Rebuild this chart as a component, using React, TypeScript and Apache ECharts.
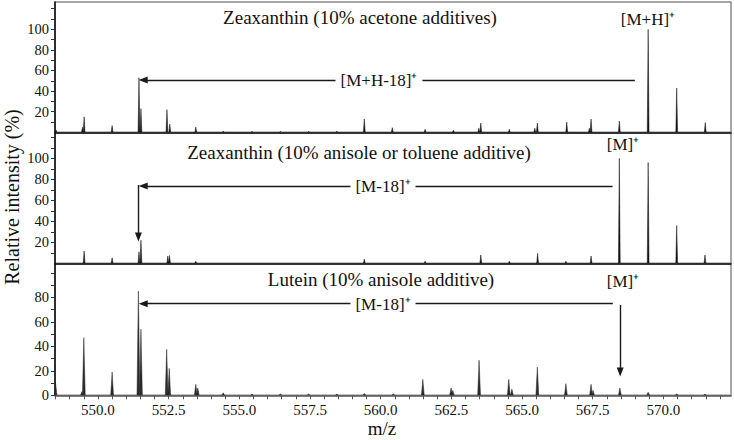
import React, { useEffect, useRef } from "react";
import * as echarts from "echarts";

// ---- data (m/z, relative intensity %) ----
const acetoneMz = [548.52, 549.45, 549.51, 550.5, 551.45, 551.52, 552.44, 552.54, 553.46, 554.43, 555.45, 556.45, 557.45, 558.45, 559.42, 560.41, 561.57, 562.57, 563.47, 563.54, 564.55, 565.45, 565.54, 566.58, 567.38, 567.44, 568.44, 569.46, 570.47, 571.48];
const acetoneInt = [2, 5, 15, 6.5, 53, 23, 22, 8, 5, 1, 0.8, 0.8, 0.8, 1, 13, 4.5, 3, 2, 4, 9, 3, 4, 9, 10, 4, 13, 11, 100, 43, 9.5];

const anisoleMz = [549.51, 550.5, 551.45, 551.52, 552.47, 552.53, 553.46, 559.42, 561.57, 563.54, 564.55, 565.55, 566.55, 567.44, 568.44, 569.46, 570.47, 571.47];
const anisoleInt = [11.7, 5.3, 11, 22, 7, 7.5, 2, 4, 2, 8, 2, 9.5, 2, 7, 100, 96, 36, 8];

const luteinMz = [548.5, 549.43, 549.5, 550.5, 551.43, 551.52, 552.43, 552.52, 553.46, 553.53, 554.43, 555.45, 556.45, 557.45, 558.45, 559.42, 560.45, 561.49, 562.49, 562.55, 563.48, 564.53, 564.64, 565.54, 566.55, 567.44, 567.51, 568.46, 569.46, 570.47, 571.47];
const luteinInt = [10, 3, 47, 19, 85, 54, 37.5, 22, 9, 6, 2, 1, 1, 1, 1, 1.5, 1, 13, 6, 4, 28.7, 13, 5, 23, 9.5, 9, 4, 6, 2.5, 1, 1];

const panelTitles = [
  "Zeaxanthin (10% acetone additives)",
  "Zeaxanthin (10% anisole or toluene additive)",
  "Lutein (10% anisole additive)",
];

// tick labels
const xLabelValues = [550, 552.5, 555, 557.5, 560, 562.5, 565, 567.5, 570];
const xTickValues = Array.from({ length: 48 }, (_, i) => 548.5 + i * 0.5);
const yLabelValuesUpper = [20, 40, 60, 80, 100];
const yTickValuesUpper = [10, 20, 30, 40, 50, 60, 70, 80, 90, 100, 110, 120];
const yLabelValuesLower = [0, 20, 40, 60, 80];
const yTickValuesLower = [0, 10, 20, 30, 40, 50, 60, 70, 80, 90, 100];

// annotation arrows in data units: [x1, y1, x2, y2] (arrow at second point)
const arrowsTop = [[568.99, 50.8, 551.6, 50.8]];
const arrowsMid = [
  [568.2, 73.6, 551.6, 73.6],
  [551.43, 74.6, 551.43, 25],
];
const arrowsBot = [
  [568.21, 74.8, 551.6, 74.8],
  [568.47, 73.7, 568.47, 19],
];

const FONT = '"Liberation Serif", "Times New Roman", serif';
const X_MIN = 548.48;
const X_MAX = 572.39;

function peaksToData(mz: number[], it: number[]) {
  return mz.map((m, i) => [m, it[i]]);
}

function makeRenderItem(color: string, hw: number) {
  return (params: any, api: any) => {
    const m = api.value(0);
    const h = api.value(1);
    const top = api.coord([m, h]);
    const base = api.coord([m, 0]);
    return {
      type: "polygon",
      shape: {
        points: [
          [base[0] - hw, base[1]],
          top,
          [base[0] + hw, base[1]],
        ],
      },
      style: { fill: color, stroke: color, lineWidth: 0.5 },
    };
  };
}

function arrowMarkLine(arrows: number[][]) {
  return {
    silent: true,
    symbol: ["none", "triangle"],
    symbolSize: [7, 9],
    label: { show: false },
    lineStyle: { color: "#1a1a1a", width: 1.4, type: "solid" },
    emphasis: { disabled: true },
    data: arrows.map((a) => [{ coord: [a[0], a[1]] }, { coord: [a[2], a[3]] }]),
  };
}

export default function App() {
  const ref = useRef<HTMLDivElement>(null);
  useEffect(() => {
    if (!ref.current) return;
    const chart = echarts.init(ref.current, undefined, { renderer: "svg" });

    const grids = [
      { left: 55, right: 3, top: 2, height: 130.3 },
      { left: 55, right: 3, top: 133, height: 130.3 },
      { left: 55, right: 3, top: 264, height: 131.3 },
    ].map((g) => ({ ...g, show: true, borderColor: "#8a8a8a", borderWidth: 1.5 }));

    const yMax = [126.5, 124.1, 107.2];

    const xAxes = [0, 1, 2].map((i) => ({
      type: "value",
      gridIndex: i,
      min: X_MIN,
      max: X_MAX,
      splitLine: { show: false },
      axisLine: {
        show: true,
        onZero: false,
        lineStyle: { color: i === 2 ? "#555" : "#111", width: 1.6 },
      },
      axisTick:
        i === 2
          ? { show: true, customValues: xTickValues, length: 4, lineStyle: { color: "#555", width: 1 } }
          : { show: false },
      axisLabel:
        i === 2
          ? {
              show: true,
              customValues: xLabelValues,
              formatter: (v: number) => v.toFixed(1),
              fontFamily: FONT,
              fontSize: 15,
              color: "#111",
              margin: 7,
            }
          : { show: false },
    }));

    const yAxes = [0, 1, 2].map((i) => ({
      type: "value",
      gridIndex: i,
      min: 0,
      max: yMax[i],
      splitLine: { show: false },
      axisLine: { show: true, lineStyle: { color: "#111", width: 1.6 } },
      axisTick: {
        show: true,
        customValues: i === 2 ? yTickValuesLower : yTickValuesUpper,
        length: 4,
        lineStyle: { color: "#333", width: 1 },
      },
      axisLabel: {
        show: true,
        customValues: i === 2 ? yLabelValuesLower : yLabelValuesUpper,
        fontFamily: FONT,
        fontSize: 14.5,
        color: "#111",
        margin: 6,
      },
    }));

    const seriesDefs = [
      { data: peaksToData(acetoneMz, acetoneInt), color: "#151515", hw: 0.9, arrows: arrowsTop },
      { data: peaksToData(anisoleMz, anisoleInt), color: "#151515", hw: 0.9, arrows: arrowsMid },
      { data: peaksToData(luteinMz, luteinInt), color: "#2a2a2a", hw: 1.4, arrows: arrowsBot },
    ];

    const series = seriesDefs.map((s, i) => ({
      type: "custom",
      xAxisIndex: i,
      yAxisIndex: i,
      clip: true,
      renderItem: makeRenderItem(s.color, s.hw),
      encode: { x: 0, y: 1 },
      data: s.data,
      markLine: arrowMarkLine(s.arrows),
    }));

    const txt = (text: string, x: number, y: number, size: number, extra: any = {}) => ({
      type: "text",
      x,
      y,
      z: 100,
      ...extra,
      style: {
        text,
        fontFamily: FONT,
        fontSize: size,
        fill: "#111",
        textAlign: "center",
        textVerticalAlign: "middle",
        align: "center",
        verticalAlign: "middle",
        ...(extra.style || {}),
      },
    });

    const labelBg = { style: { backgroundColor: "#fff", padding: [0, 5] } };

    chart.setOption({
      animation: false,
      grid: grids,
      xAxis: xAxes,
      yAxis: yAxes,
      series,
      graphic: [
        txt(panelTitles[0], 360, 17, 19),
        txt(panelTitles[1], 359, 152, 19),
        txt(panelTitles[2], 381, 279, 19),
        txt("[M+H]⁺", 648, 19, 17),
        txt("[M]⁺", 623, 144, 17),
        txt("[M]⁺", 623, 281, 17),
        txt("[M+H-18]⁺", 379, 80, 17, labelBg),
        txt("[M-18]⁺", 383, 186, 17, labelBg),
        txt("[M-18]⁺", 383, 304, 17, labelBg),
        txt("Relative intensity (%)", 12, 197, 20, { rotation: Math.PI / 2 }),
        txt("m/z", 382, 428, 19),
      ],
    });

    return () => chart.dispose();
  }, []);

  return (
    <div
      ref={ref}
      style={{ position: "fixed", left: 0, top: 0, width: 734, height: 440, background: "#fff" }}
    />
  );
}
